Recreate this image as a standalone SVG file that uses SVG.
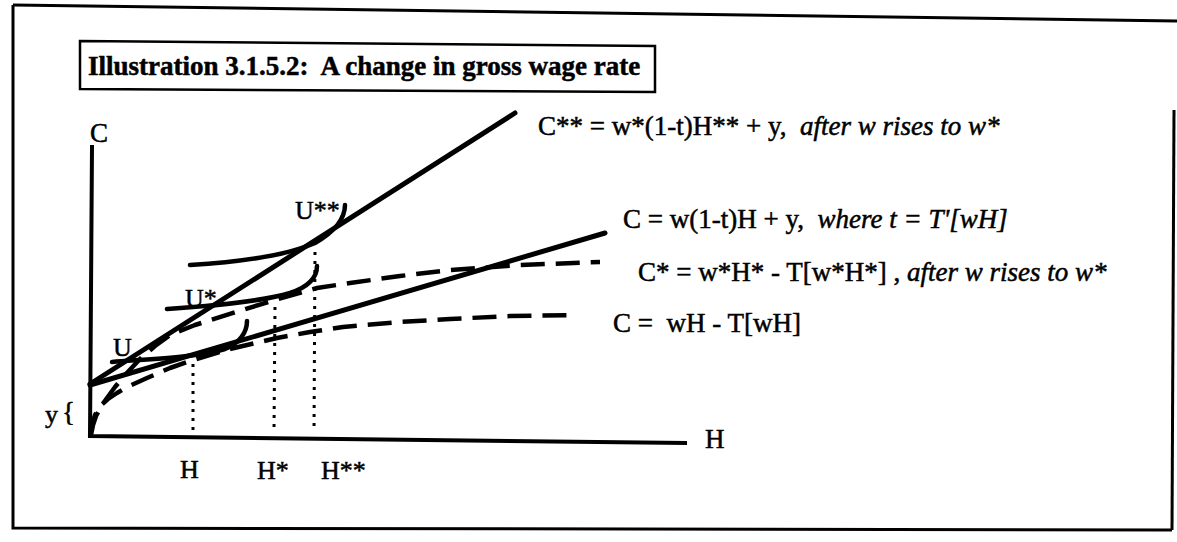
<svg xmlns="http://www.w3.org/2000/svg" width="1177" height="542" viewBox="0 0 1177 542">
<style>
.t{font-family:"Liberation Serif","Times New Roman",serif;font-size:27px;fill:#000;stroke:#000;stroke-width:0.5;white-space:pre}
.s{font-size:26px}
.i{font-style:italic}
.frame{fill:none;stroke:#000;stroke-width:3}
.ax{fill:none;stroke:#000;stroke-width:4;stroke-linecap:square}
.ln{fill:none;stroke:#000;stroke-width:5;stroke-linecap:round}
.uc{fill:none;stroke:#000;stroke-width:4.5;stroke-linecap:round}
.ds{fill:none;stroke:#000;stroke-width:4.5;stroke-dasharray:24 11;stroke-linejoin:round}
.dt{fill:none;stroke:#000;stroke-width:3;stroke-dasharray:3 6}
</style>
<rect width="1177" height="542" fill="#fff"/>
<g id="frame">
<path class="frame" d="M13,5 L1177,21"/>
<path class="frame" d="M13,5 L13,528 L1172,530"/>
<path class="frame" d="M1174,110 L1172,530" stroke-width="2"/>
</g>
<g id="title">
<path d="M80,41 L655,46 L655,92 L80,89 Z" fill="none" stroke="#000" stroke-width="2.5"/>
<text class="t" x="88" y="75" font-weight="bold" font-size="26" stroke-width="0.2">Illustration 3.1.5.2:  A change in gross wage rate</text>
</g>
<g id="axes">
<path class="ax" d="M92,147 L90,436 L685,443"/>
<text class="t" x="90" y="142">C</text>
<text class="t" x="705" y="448">H</text>
<text class="t s" x="45" y="423">y</text>
<text class="t" x="62" y="421" font-size="32">{</text>
</g>
<g id="connectors">
<path id="budget-cstarstar" class="ln" d="M90,384 L515,113"/>
<path id="budget-c" class="ln" d="M90,385 L605,233"/>
<path id="curve-cstar" class="ds" d="M91,435 L93,425 L96,416 L101,407 L107,398 L115,387 L125,375 L140,359 L155,346 L170,335 L195,325 L236,312 L275,300 L317,288 L350,283 L400,276 L450,270 L520,265 L600,262"/>
<path id="curve-c" class="ds" d="M90,436 L92,425 L95,415 L100,406 L108,399 L117,393 L127,387 L147,378 L170,368 L193,360 L230,349 L277,338 L310,332 L343,327 L400,322 L450,319 L510,316 L577,315"/>
<path id="dot-h" class="dt" d="M193,364 L193,430"/>
<path id="dot-hstar" class="dt" d="M275,307 L274,432"/>
<path id="dot-hstarstar" class="dt" d="M315,252 L314,432"/>
</g>
<g id="indifference">
<path id="U" class="uc" d="M112,362 C150,359 200,357 225,349 C240,343 247,332 247,321"/>
<path id="Ustar" class="uc" d="M167,309 C210,306 260,302 290,293 C308,287 317,278 317,266"/>
<path id="Ustarstar" class="uc" d="M190,265 C240,262 285,256 315,243 C335,232 345,218 345,205"/>
<text class="t s" x="113" y="356">U</text>
<text class="t s" x="185" y="307">U*</text>
<text class="t s" x="295" y="219">U**</text>
</g>
<g id="ticks">
<text class="t s" x="180" y="478">H</text>
<text class="t s" x="257" y="479">H*</text>
<text class="t s" x="321" y="479">H**</text>
</g>
<g id="labels">
<text class="t" x="538" y="135">C** = w*(1-t)H** + y,  <tspan class="i">after w rises to w*</tspan></text>
<text class="t" x="623" y="228">C = w(1-t)H + y,  <tspan class="i">where t = T'[wH]</tspan></text>
<text class="t" x="638" y="281">C* = w*H* - T[w*H*] , <tspan class="i">after w rises to w*</tspan></text>
<text class="t" x="613" y="332">C =  wH - T[wH]</text>
</g>
</svg>
